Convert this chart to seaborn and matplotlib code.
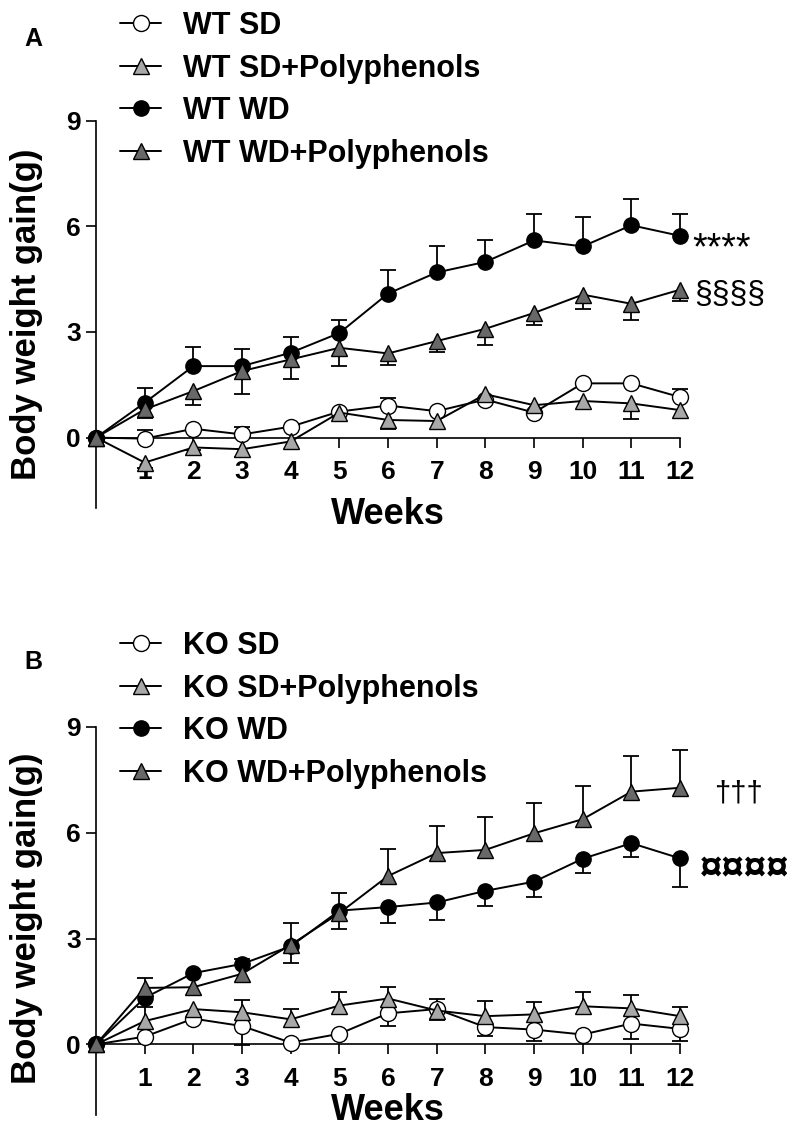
import numpy as np
import matplotlib
matplotlib.use('Agg')
import matplotlib.pyplot as plt
import seaborn as sns

# -----------------------------------------------------------------------------
# Données (gain de poids moyen, barres d'erreur unilatérales)
# -----------------------------------------------------------------------------
weeks = list(range(13))
week_ticks = list(range(1, 13))
y_ticks = [0, 3, 6, 9]

# Panel A - WT
wt_labels = ['WT SD', 'WT SD+Polyphenols', 'WT WD', 'WT WD+Polyphenols']
wt_sd_mean = [0, -0.03, 0.25, 0.09, 0.31, 0.74, 0.91, 0.75, 1.08, 0.71, 1.54, 1.54, 1.15]
wt_sd_up = [0, 0.25, 0, 0.21, 0, 0, 0.20, 0, 0, 0, 0, 0, 0.22]
wt_sd_down = [0, 0, 0, 0, 0, 0, 0, 0, 0, 0, 0, 0, 0]
wt_sdp_mean = [0, -0.71, -0.28, -0.33, -0.11, 0.71, 0.50, 0.47, 1.23, 0.92, 1.04, 0.97, 0.78]
wt_sdp_up = [0, 0, 0, 0, 0, 0, 0, 0, 0, 0, 0, 0, 0]
wt_sdp_down = [0, 0.15, 0.06, 0.23, 0, 0, 0.26, 0, 0, 0, 0, 0.43, 0]
wt_wd_mean = [0, 0.99, 2.03, 2.03, 2.41, 2.97, 4.09, 4.69, 4.99, 5.60, 5.43, 6.03, 5.73]
wt_wd_up = [0, 0.41, 0.55, 0.49, 0.45, 0.38, 0.68, 0.74, 0.63, 0.75, 0.83, 0.74, 0.62]
wt_wd_down = [0, 0, 0, 0, 0, 0, 0, 0, 0, 0, 0, 0, 0]
wt_wdp_mean = [0, 0.80, 1.32, 1.89, 2.22, 2.55, 2.39, 2.74, 3.09, 3.54, 4.06, 3.80, 4.20]
wt_wdp_up = [0, 0, 0, 0, 0, 0, 0, 0, 0, 0, 0, 0, 0]
wt_wdp_down = [0, 0.23, 0.40, 0.66, 0.55, 0.52, 0.33, 0.30, 0.45, 0.35, 0.41, 0.45, 0.33]

# Panel B - KO
ko_labels = ['KO SD', 'KO SD+Polyphenols', 'KO WD', 'KO WD+Polyphenols']
ko_sd_mean = [0, 0.22, 0.73, 0.52, 0.05, 0.30, 0.88, 1.00, 0.49, 0.42, 0.28, 0.59, 0.44]
ko_sd_up = [0, 0, 0, 0, 0, 0, 0, 0, 0, 0, 0, 0, 0]
ko_sd_down = [0, 0, 0, 0.55, 0, 0, 0.36, 0.30, 0.24, 0.33, 0, 0.45, 0.35]
ko_sdp_mean = [0, 0.66, 1.00, 0.91, 0.71, 1.10, 1.30, 0.96, 0.80, 0.85, 1.08, 1.02, 0.80]
ko_sdp_up = [0, 0.40, 0, 0.34, 0.29, 0.38, 0.33, 0.34, 0.42, 0.36, 0.40, 0.37, 0.26]
ko_sdp_down = [0, 0, 0, 0, 0, 0, 0, 0, 0, 0, 0, 0, 0]
ko_wd_mean = [0, 1.32, 2.02, 2.28, 2.78, 3.79, 3.89, 4.02, 4.35, 4.61, 5.26, 5.70, 5.27]
ko_wd_up = [0, 0, 0, 0.14, 0, 0, 0, 0, 0, 0, 0, 0, 0]
ko_wd_down = [0, 0, 0, 0, 0.47, 0.52, 0.45, 0.49, 0.44, 0.44, 0.41, 0.38, 0.80]
ko_wdp_mean = [0, 1.60, 1.62, 2.00, 2.82, 3.72, 4.77, 5.42, 5.51, 5.98, 6.38, 7.16, 7.27]
ko_wdp_up = [0, 0.28, 0, 0, 0.62, 0.58, 0.76, 0.77, 0.94, 0.85, 0.94, 1.00, 1.06]
ko_wdp_down = [0, 0, 0, 0, 0, 0, 0, 0, 0, 0, 0, 0, 0]

# Annotations de significativité (texte, x, y, taille, graisse)
wt_notes = [('****', 12.25, 5.35, 27, 'normal'), ('§§§§', 12.3, 4.05, 23, 'normal')]
ko_notes = [('†††', 12.7, 7.1, 21, 'normal'), ('¤¤¤¤', 12.4, 4.95, 29, 'bold')]

# Style des 4 groupes : (marqueur, couleur de remplissage, taille)
styles = [('o', 'white', 11.5), ('^', '#a8a8a8', 12), ('o', 'black', 11), ('^', '#686868', 12)]

# -----------------------------------------------------------------------------
# Mise en forme
# -----------------------------------------------------------------------------
sns.set_theme(style='ticks')
plt.rcParams['font.family'] = ['Liberation Sans', 'DejaVu Sans']
plt.rcParams['font.weight'] = 'bold'
plt.rcParams['axes.linewidth'] = 1.2
plt.rcParams['text.color'] = 'black'
plt.rcParams['axes.labelcolor'] = 'black'
plt.rcParams['axes.edgecolor'] = 'black'
plt.rcParams['xtick.color'] = 'black'
plt.rcParams['ytick.color'] = 'black'

W, H = 787, 1143
fig = plt.figure(figsize=(W / 100, H / 100), dpi=100)


def add_axes_px(x0, x1, y_top, y_bot):
    return fig.add_axes([x0 / W, 1 - y_bot / H, (x1 - x0) / W, (y_bot - y_top) / H])


def add_err(ax, x, y, err, sign):
    """Barre d'erreur d'un seul côté (haut si sign > 0, bas sinon)."""
    x, y, err = np.asarray(x, float), np.asarray(y, float), np.asarray(err, float)
    m = err > 0
    if not m.any():
        return
    z = np.zeros(m.sum())
    yerr = [z, err[m]] if sign > 0 else [err[m], z]
    eb = ax.errorbar(x[m], y[m], yerr=yerr, fmt='none', ecolor='black',
                     elinewidth=1.3, capsize=5.5, capthick=1.3, zorder=2)
    for cap in eb.lines[1]:
        if np.allclose(cap.get_ydata(), y[m]):
            cap.set_visible(False)


def draw_panel(ax, series, labels, notes, legend_top):
    for (mean, up, down), (mk, fc, ms), lab in zip(series, styles, labels):
        add_err(ax, weeks, mean, up, 1)
        add_err(ax, weeks, mean, down, -1)
        sns.lineplot(x=weeks, y=mean, ax=ax, color='black', lw=1.4, errorbar=None,
                     marker=mk, markersize=ms, markerfacecolor=fc,
                     markeredgecolor='black', markeredgewidth=1.0,
                     label=lab, zorder=3, clip_on=False)

    ax.set_xlim(-0.5, 12.5)
    ax.set_ylim(-2, 9)
    ax.set_xticks(week_ticks)
    ax.set_yticks(y_ticks)
    sns.despine(ax=ax)
    ax.spines['left'].set_position(('data', 0))
    ax.spines['left'].set_bounds(-2, 9)
    ax.spines['bottom'].set_position(('data', 0))
    ax.spines['bottom'].set_bounds(0, 12)
    ax.tick_params(axis='both', direction='out', length=7, width=1.2,
                   labelsize=19, colors='black')
    ax.tick_params(axis='x', pad=9)
    ax.tick_params(axis='y', pad=4)
    ax.set_xlabel('')
    ax.set_ylabel('')
    ax.patch.set_alpha(0)

    for txt, x, y, size, wt in notes:
        ax.text(x, y, txt, fontsize=size, fontweight=wt, ha='left', va='center',
                color='black')

    handles, labs = ax.get_legend_handles_labels()
    ax.legend(handles, labs, loc='upper left',
              bbox_to_anchor=(120 / W, 1 - legend_top / H),
              bbox_transform=fig.transFigure, frameon=False, fontsize=22,
              handlelength=1.35, handletextpad=0.7, labelspacing=0.41,
              borderpad=0, borderaxespad=0)


# Panel A
ax_a = add_axes_px(71.7, 704.4, 120.7, 508)
draw_panel(ax_a,
           [(wt_sd_mean, wt_sd_up, wt_sd_down),
            (wt_sdp_mean, wt_sdp_up, wt_sdp_down),
            (wt_wd_mean, wt_wd_up, wt_wd_down),
            (wt_wdp_mean, wt_wdp_up, wt_wdp_down)],
           wt_labels, wt_notes, legend_top=11)

# Panel B
ax_b = add_axes_px(71.7, 704.4, 726.7, 1115)
draw_panel(ax_b,
           [(ko_sd_mean, ko_sd_up, ko_sd_down),
            (ko_sdp_mean, ko_sdp_up, ko_sdp_down),
            (ko_wd_mean, ko_wd_up, ko_wd_down),
            (ko_wdp_mean, ko_wdp_up, ko_wdp_down)],
           ko_labels, ko_notes, legend_top=631)

# Titres d'axes et lettres de panneau
for y_letter, y_lab, y_weeks, letter in [(39, 314, 514, 'A'), (662, 918, 1110, 'B')]:
    fig.text(33 / W, 1 - y_letter / H, letter, fontsize=18, fontweight='bold',
             ha='center', va='center')
    fig.text(27 / W, 1 - y_lab / H, 'Body weight gain(g)', fontsize=25,
             fontweight='bold', rotation=90, ha='center', va='center')
    fig.text(388 / W, 1 - y_weeks / H, 'Weeks', fontsize=26, fontweight='bold',
             ha='center', va='center')

plt.savefig('out.png', dpi=100)
plt.close()
